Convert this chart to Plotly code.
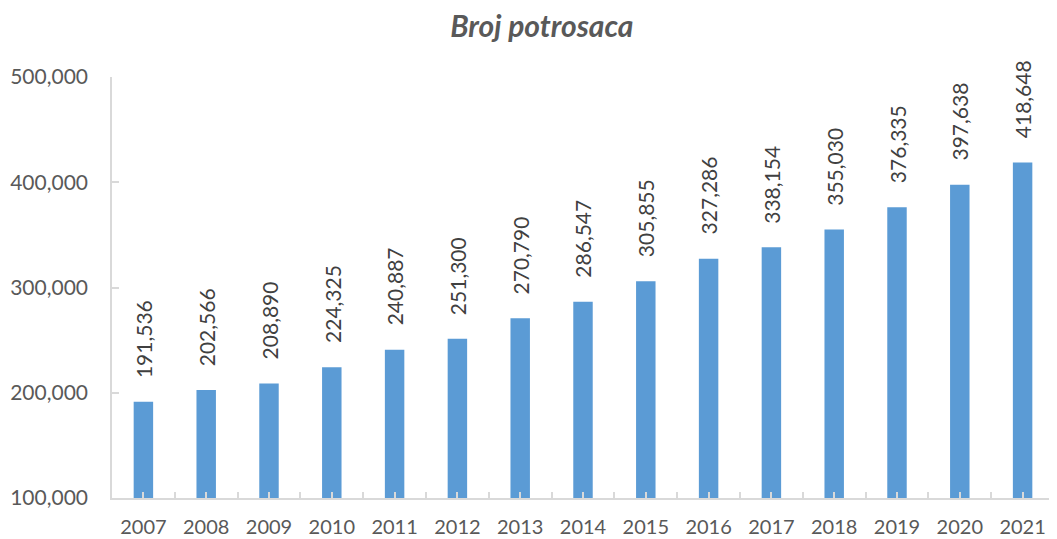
import plotly.graph_objects as go

years = ['2007', '2008', '2009', '2010', '2011', '2012', '2013', '2014',
         '2015', '2016', '2017', '2018', '2019', '2020', '2021']
potrosaci = [191536, 202566, 208890, 224325, 240887, 251300, 270790, 286547,
             305855, 327286, 338154, 355030, 376335, 397638, 418648]

FONT = "Lato, 'Open Sans', sans-serif"
AXIS_COLOR = '#d9d9d9'

idx = list(range(len(years)))

fig = go.Figure(go.Bar(
    x=idx,
    y=potrosaci,
    width=0.31,
    marker=dict(color='#5b9bd5', line=dict(width=0)),
    hoverinfo='x+y',
))

# data labels, rotated and lifted above the bars
for i, v in zip(idx, potrosaci):
    fig.add_annotation(
        x=i, y=v, text=f"{v:,}", textangle=-90,
        showarrow=False, xanchor='center', yanchor='bottom', yshift=22,
        font=dict(family=FONT, size=21, color='#404040'),
    )

# ticks at category centres and boundaries, labels only at centres
tickvals, ticktext = [], []
for i, y in enumerate(years):
    tickvals += [i - 0.5, i]
    ticktext += ['', y]
tickvals.append(len(years) - 0.5)
ticktext.append('')

# page has an 8px body margin, margins below compensate for it
fig.update_layout(
    width=1057, height=539,
    margin=dict(l=104, r=11, t=69, b=49),
    paper_bgcolor='white', plot_bgcolor='white',
    showlegend=False,
    title=dict(
        text="<b><i>Broj potrosaca</i></b>",
        x=0.505, xref='container', xanchor='center',
        y=0.985, yref='container', yanchor='top', pad=dict(t=0),
        font=dict(family=FONT, size=30, color='#595959'),
    ),
    xaxis=dict(
        range=[-0.5, len(years) - 0.5], automargin=False,
        tickmode='array', tickvals=tickvals, ticktext=ticktext,
        ticks='inside', ticklen=6, tickcolor=AXIS_COLOR, tickwidth=1.5,
        showline=True, linecolor=AXIS_COLOR, linewidth=1.5,
        showgrid=False, zeroline=False, ticklabelstandoff=10,
        tickfont=dict(family=FONT, size=20, color='#595959'),
    ),
    yaxis=dict(
        range=[100000, 500000], dtick=100000, tickformat=',', automargin=False,
        ticks='inside', ticklen=7, tickcolor=AXIS_COLOR, tickwidth=1.5,
        showline=True, linecolor=AXIS_COLOR, linewidth=1.5,
        showgrid=False, zeroline=False, ticklabelstandoff=18,
        tickfont=dict(family=FONT, size=21, color='#595959'),
    ),
)

fig.write_html("out.html")
